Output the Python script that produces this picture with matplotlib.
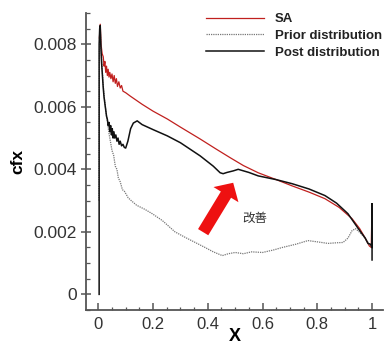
import matplotlib
matplotlib.use("Agg")
import matplotlib.pyplot as plt
from matplotlib.ticker import MultipleLocator, FuncFormatter

plt.rcParams['font.family'] = ['Liberation Sans', 'Noto Sans CJK SC', 'DejaVu Sans']

# ---- data ----
sa_x = [0.004, 0.007, 0.010, 0.014, 0.018, 0.021, 0.024, 0.027, 0.030, 0.033,
        0.036, 0.039, 0.042, 0.046, 0.050, 0.054, 0.058, 0.062, 0.066, 0.070,
        0.075, 0.080, 0.085, 0.090, 0.100, 0.117, 0.160, 0.200, 0.252, 0.300,
        0.372, 0.430, 0.482, 0.530, 0.584, 0.650, 0.708, 0.770, 0.828, 0.880,
        0.927, 0.955, 0.975, 0.990, 0.997, 1.000]
sa_y = [0.0082, 0.00864, 0.0080, 0.0077, 0.0076, 0.0073, 0.00745, 0.0071, 0.0073, 0.0070,
        0.0072, 0.00695, 0.0071, 0.0069, 0.00705, 0.0068, 0.0070, 0.00675, 0.0069, 0.00665,
        0.0068, 0.0066, 0.00668, 0.0065, 0.00645, 0.00634, 0.00608, 0.00586, 0.00561, 0.00535,
        0.00497, 0.00465, 0.00437, 0.00412, 0.00389, 0.00367, 0.00347, 0.00327, 0.00306, 0.00278,
        0.00242, 0.0021, 0.0018, 0.00155, 0.0015, 0.0029]

post_x = [0.003, 0.003, 0.005, 0.007, 0.009, 0.012, 0.015, 0.018, 0.021, 0.024,
          0.027, 0.030, 0.033, 0.036, 0.039, 0.042, 0.045, 0.048, 0.051, 0.054,
          0.057, 0.060, 0.064, 0.068, 0.072, 0.076, 0.080, 0.085, 0.090, 0.095,
          0.100, 0.108, 0.118, 0.128, 0.142, 0.160, 0.200, 0.252, 0.300, 0.372,
          0.420, 0.445, 0.456, 0.470, 0.493, 0.511, 0.550, 0.584, 0.650, 0.708,
          0.770, 0.828, 0.870, 0.912, 0.950, 0.975, 0.985, 0.995, 1.000, 1.000,
          1.000]
post_y = [0.0, 0.0080, 0.0085, 0.0086, 0.0080, 0.0074, 0.0070, 0.0066, 0.0063, 0.0061,
          0.0059, 0.0057, 0.0056, 0.0054, 0.0055, 0.0052, 0.0054, 0.0051, 0.0053, 0.0050,
          0.0052, 0.0050, 0.0051, 0.0049, 0.0050, 0.0048, 0.0049, 0.00475, 0.0048, 0.0047,
          0.00468, 0.0049, 0.0053, 0.00548, 0.00555, 0.00543, 0.00527, 0.00507, 0.00485, 0.00443,
          0.0041, 0.00389, 0.00386, 0.0039, 0.00395, 0.0040, 0.0039, 0.00379, 0.00367, 0.00354,
          0.00337, 0.00316, 0.00292, 0.00258, 0.0021, 0.0018, 0.00163, 0.0016, 0.0015, 0.0029,
          0.0011]

prior_x = [0.002, 0.004, 0.007, 0.010, 0.014, 0.018, 0.022, 0.026, 0.030, 0.034,
           0.038, 0.044, 0.050, 0.056, 0.062, 0.068, 0.073, 0.080, 0.088, 0.095,
           0.102, 0.109, 0.120, 0.140, 0.170, 0.197, 0.234, 0.280, 0.318, 0.354,
           0.390, 0.420, 0.453, 0.475, 0.500, 0.530, 0.560, 0.600, 0.640, 0.672,
           0.720, 0.766, 0.800, 0.839, 0.870, 0.894, 0.912, 0.927, 0.940, 0.955,
           0.975, 0.990, 1.000]
prior_y = [0.0030, 0.0078, 0.0085, 0.0079, 0.0072, 0.0067, 0.0063, 0.0060, 0.0057, 0.0055,
           0.0052, 0.0049, 0.0046, 0.00445, 0.0041, 0.0040, 0.00373, 0.0036, 0.00335, 0.0033,
           0.0032, 0.00309, 0.0030, 0.00285, 0.00272, 0.00258, 0.00236, 0.0020, 0.00182, 0.00166,
           0.0015, 0.00136, 0.00124, 0.0013, 0.00134, 0.0013, 0.00136, 0.00134, 0.00142, 0.0015,
           0.0016, 0.00172, 0.00168, 0.00163, 0.00165, 0.00166, 0.0018, 0.00204, 0.0021, 0.00198,
           0.0018, 0.0016, 0.0015]

labels = ["SA", "Prior distribution", "Post distribution"]
x_ticks = [0, 0.2, 0.4, 0.6, 0.8, 1.0]
y_ticks = [0, 0.002, 0.004, 0.006, 0.008]
arrow_tail = (0.383, 0.00199)
arrow_tip = (0.4927, 0.00357)
note_text = "改善"
note_pos = (0.573, 0.00242)

assert len(sa_x) == len(sa_y) and len(post_x) == len(post_y) and len(prior_x) == len(prior_y)

# ---- figure ----
fig = plt.figure(figsize=(3.9, 3.45), dpi=100)
ax = fig.add_axes([86/390, 1-310/345, (383-86)/390, (310-13)/345])

l_sa, = ax.plot(sa_x, sa_y, color='#c0201e', lw=0.9, label=labels[0])
l_pr, = ax.plot(prior_x, prior_y, color='#777777', lw=0.9, ls=(0, (1, 0.8)), label=labels[1])
l_po, = ax.plot(post_x, post_y, color='#111111', lw=1.1, label=labels[2])

ax.set_xlim(-0.045, 1.04)
ax.set_ylim(-0.0005, 0.009)

for s in ['top', 'right']:
    ax.spines[s].set_visible(False)
for s in ['left', 'bottom']:
    ax.spines[s].set_color('#555555')
    ax.spines[s].set_linewidth(1.3)

ax.set_xticks(x_ticks)
ax.set_yticks(y_ticks)
ax.xaxis.set_minor_locator(MultipleLocator(0.05))
ax.yaxis.set_minor_locator(MultipleLocator(0.0005))
fmt = FuncFormatter(lambda v, p: "%g" % round(v, 6))
ax.xaxis.set_major_formatter(fmt)
ax.yaxis.set_major_formatter(fmt)
ax.tick_params(axis='x', which='major', direction='in', length=5, width=1.1,
               colors='#555555', labelcolor='#333333', labelsize=12, pad=5)
ax.tick_params(axis='x', which='minor', direction='in', length=2.5, width=0.9, colors='#555555')
ax.tick_params(axis='y', which='major', direction='inout', length=7, width=1.1,
               colors='#555555', labelcolor='#333333', labelsize=12.5, pad=3)
ax.tick_params(axis='y', which='minor', direction='in', length=3, width=0.9, colors='#555555')

ax.set_xlabel("X", fontsize=13, fontweight='bold', labelpad=-3)
ax.set_ylabel("cfx", fontsize=12.5, fontweight='bold', labelpad=6)

ax.annotate('', xy=arrow_tip, xytext=arrow_tail,
            arrowprops=dict(arrowstyle='simple,head_length=0.5,head_width=1.05,tail_width=0.43',
                            mutation_scale=20, color='#ee1111', lw=0,
                            shrinkA=0, shrinkB=0))
ax.text(note_pos[0], note_pos[1], note_text, fontsize=9, color='#333333',
        ha='center', va='center', family=['Noto Sans CJK SC', 'DejaVu Sans'])

leg = ax.legend(handles=[l_sa, l_pr, l_po], loc='upper left',
                bbox_to_anchor=(206/390, 1-13/345), bbox_transform=fig.transFigure,
                frameon=False, borderpad=0, borderaxespad=0, handlelength=4.4,
                handletextpad=0.8, labelspacing=0.35,
                prop={'weight': 'bold', 'size': 9.5})
for t in leg.get_texts():
    t.set_color('#222222')

fig.savefig("out.png", dpi=100)
